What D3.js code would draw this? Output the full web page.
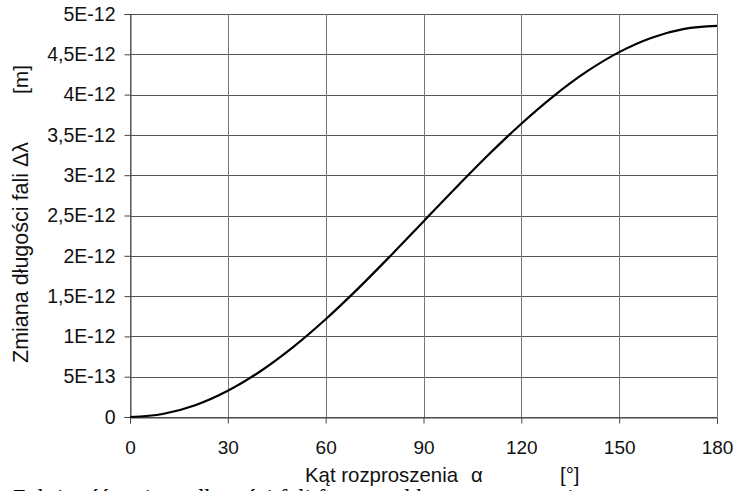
<!DOCTYPE html>
<html>
<head>
<meta charset="utf-8">
<script src="https://cdn.jsdelivr.net/npm/d3@7"></script>
<style>
  body { margin: 0; background: #fff; overflow: hidden; }
  svg { display: block; font-family: Arial, "Liberation Sans", sans-serif; }
</style>
</head>
<body>
<svg id="chart" width="737" height="491"></svg>
<script>
// Scattering angle [deg] and wavelength shift [m]
const angles = [0, 10, 20, 30, 40, 50, 60, 70, 80, 90, 100, 110, 120, 130, 140, 150, 160, 170, 180];
const shifts = [0, 0.037e-12, 0.146e-12, 0.325e-12, 0.568e-12, 0.867e-12, 1.213e-12, 1.596e-12, 2.005e-12,
  2.426e-12, 2.847e-12, 3.256e-12, 3.639e-12, 3.985e-12, 4.284e-12, 4.527e-12, 4.706e-12, 4.815e-12, 4.852e-12];

const xTicks = [0, 30, 60, 90, 120, 150, 180];
const yTicks = [0, 0.5e-12, 1e-12, 1.5e-12, 2e-12, 2.5e-12, 3e-12, 3.5e-12, 4e-12, 4.5e-12, 5e-12];
const yTickLabels = ['0', '5E-13', '1E-12', '1,5E-12', '2E-12', '2,5E-12', '3E-12', '3,5E-12', '4E-12', '4,5E-12', '5E-12'];

const data = angles.map((a, i) => ({ a: a, v: shifts[i] }));

const margin = { top: 14, right: 20, bottom: 74, left: 130 };
const width = 737 - margin.left - margin.right;
const height = 491 - margin.top - margin.bottom;

const svg = d3.select('#chart');
const g = svg.append('g').attr('transform', `translate(${margin.left},${margin.top})`);

const x = d3.scaleLinear().domain([0, 180]).range([0, width]);
const y = d3.scaleLinear().domain([0, 5e-12]).range([height, 0]);

// Grid lines
g.append('g')
  .selectAll('line')
  .data(yTicks)
  .enter()
  .append('line')
  .attr('x1', 0)
  .attr('x2', width)
  .attr('y1', d => Math.round(y(d)) + 0.5)
  .attr('y2', d => Math.round(y(d)) + 0.5)
  .attr('stroke', '#555');

g.append('g')
  .selectAll('line')
  .data(xTicks)
  .enter()
  .append('line')
  .attr('y1', 0)
  .attr('y2', height)
  .attr('x1', d => Math.round(x(d)) + 0.5)
  .attr('x2', d => Math.round(x(d)) + 0.5)
  .attr('stroke', '#777');

// Axes
const xAxis = g.append('g')
  .attr('transform', `translate(0,${Math.round(height) + 0.5})`)
  .call(d3.axisBottom(x).tickValues(xTicks).tickSize(6).tickPadding(17).tickFormat(d => d));

const yAxis = g.append('g')
  .attr('transform', 'translate(0.5,0)')
  .call(d3.axisLeft(y).tickValues(yTicks).tickSize(6).tickPadding(9)
    .tickFormat((d, i) => yTickLabels[i]));

[xAxis, yAxis].forEach(ax => {
  ax.select('.domain').attr('stroke', '#444');
  ax.selectAll('.tick line').attr('stroke', '#444');
  ax.selectAll('text').attr('fill', '#111');
});
xAxis.selectAll('text').style('font-size', '19px');
yAxis.selectAll('text').style('font-size', '19.5px');

// Curve
const line = d3.line()
  .x(d => x(d.a))
  .y(d => y(d.v))
  .curve(d3.curveMonotoneX);

g.append('path')
  .datum(data)
  .attr('fill', 'none')
  .attr('stroke', '#000')
  .attr('stroke-width', 2.2)
  .attr('d', line);

// Axis titles
const xTitle = svg.append('text')
  .attr('x', 305)
  .attr('y', 482)
  .style('font-size', '20.4px')
  .attr('fill', '#111');
xTitle.append('tspan').text('Kąt rozproszenia');
xTitle.append('tspan').attr('x', 471).text('α');

svg.append('text')
  .attr('x', 560)
  .attr('y', 482)
  .style('font-size', '20.4px')
  .attr('fill', '#111')
  .text('[°]');

svg.append('text')
  .attr('transform', 'translate(28,363) rotate(-90)')
  .style('font-size', '21.5px')
  .attr('fill', '#111')
  .text('Zmiana długości fali Δλ');

svg.append('text')
  .attr('transform', 'translate(28,94) rotate(-90)')
  .style('font-size', '21px')
  .attr('fill', '#111')
  .text('[m]');

// Caption below, cut off by the picture edge as in the source
svg.append('text')
  .attr('x', 12)
  .attr('y', 505)
  .style('font-family', '"Liberation Serif", "DejaVu Serif", serif')
  .style('font-size', '24px')
  .attr('fill', '#000')
  .text('Zależność zmiany długości fali fotonu od kąta rozproszenia');
</script>
</body>
</html>
